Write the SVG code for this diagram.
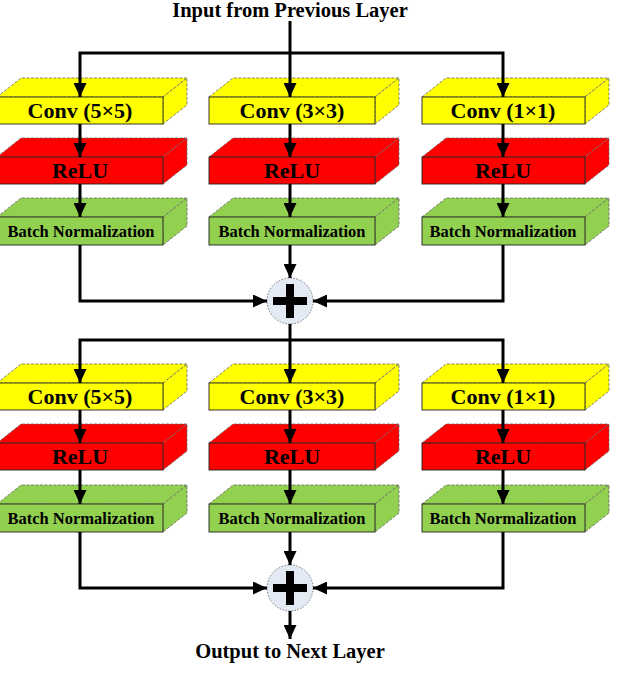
<svg xmlns="http://www.w3.org/2000/svg" width="640" height="692" viewBox="0 0 640 692">
<defs>
<style>
.t{font-family:"Liberation Serif","Times New Roman",serif;font-weight:bold;fill:#000;text-anchor:middle}
.big{font-size:22px}
.bn{font-size:16.5px}
.title{font-size:20.5px}
.fr{stroke:#222;stroke-width:0.9}
.fc{stroke:#666;stroke-width:0.8;stroke-dasharray:3 1.5}
.y{fill:#FFFF00}
.r{fill:#FF0000}
.g{fill:#92D050}
.ln{fill:none;stroke:#000;stroke-width:3;stroke-linejoin:miter}
.plus{fill:#E4EAF4;stroke:#777;stroke-width:1;stroke-dasharray:1.5 1.5}
</style>
<marker id="ah" markerUnits="userSpaceOnUse" markerWidth="14" markerHeight="13" refX="14" refY="6.5" orient="auto-start-reverse">
<path d="M0,0 L14,6.5 L0,13 Z" fill="#000"/>
</marker>
</defs>
<rect width="640" height="692" fill="#fff"/>

<text class="t title" x="290" y="17">Input from Previous Layer</text>

<!-- Row 1 -->
<g id="conv5-1">
<polygon class="y fc" points="-3,97 21,78 187,78 163,97"/>
<polygon class="y fc" points="163,97 187,78 187,105 163,124"/>
<rect class="y fr" x="-3" y="97" width="166" height="27"/>
<text class="t big" x="80" y="118">Conv (5×5)</text>
</g>
<g id="conv3-1">
<polygon class="y fc" points="209,97 233,78 399,78 375,97"/>
<polygon class="y fc" points="375,97 399,78 399,105 375,124"/>
<rect class="y fr" x="209" y="97" width="166" height="27"/>
<text class="t big" x="292" y="118">Conv (3×3)</text>
</g>
<g id="conv1-1">
<polygon class="y fc" points="422,97 446,78 609,78 585,97"/>
<polygon class="y fc" points="585,97 609,78 609,105 585,124"/>
<rect class="y fr" x="422" y="97" width="163" height="27"/>
<text class="t big" x="503" y="118">Conv (1×1)</text>
</g>

<g id="relu1-1">
<polygon class="r fc" points="-3,157 21,138 187,138 163,157"/>
<polygon class="r fc" points="163,157 187,138 187,165 163,184"/>
<rect class="r fr" x="-3" y="157" width="166" height="27"/>
<text class="t big" x="80" y="178">ReLU</text>
</g>
<g id="relu2-1">
<polygon class="r fc" points="209,157 233,138 399,138 375,157"/>
<polygon class="r fc" points="375,157 399,138 399,165 375,184"/>
<rect class="r fr" x="209" y="157" width="166" height="27"/>
<text class="t big" x="292" y="178">ReLU</text>
</g>
<g id="relu3-1">
<polygon class="r fc" points="422,157 446,138 609,138 585,157"/>
<polygon class="r fc" points="585,157 609,138 609,165 585,184"/>
<rect class="r fr" x="422" y="157" width="163" height="27"/>
<text class="t big" x="503" y="178">ReLU</text>
</g>

<g id="bn1-1">
<polygon class="g fc" points="-3,217 21,198 187,198 163,217"/>
<polygon class="g fc" points="163,217 187,198 187,226 163,245"/>
<rect class="g fr" x="-3" y="217" width="166" height="28"/>
<text class="t bn" x="81" y="237">Batch Normalization</text>
</g>
<g id="bn2-1">
<polygon class="g fc" points="209,217 233,198 399,198 375,217"/>
<polygon class="g fc" points="375,217 399,198 399,226 375,245"/>
<rect class="g fr" x="209" y="217" width="166" height="28"/>
<text class="t bn" x="292" y="237">Batch Normalization</text>
</g>
<g id="bn3-1">
<polygon class="g fc" points="422,217 446,198 609,198 585,217"/>
<polygon class="g fc" points="585,217 609,198 609,226 585,245"/>
<rect class="g fr" x="422" y="217" width="163" height="28"/>
<text class="t bn" x="503" y="237">Batch Normalization</text>
</g>

<g id="add-1">
<circle class="plus" cx="290" cy="301" r="23"/>
<rect x="273" y="297" width="34" height="8" fill="#000"/>
<rect x="286" y="284" width="8" height="34" fill="#000"/>
</g>

<!-- Row 2 -->
<g id="conv5-2">
<polygon class="y fc" points="-3,383 21,364 187,364 163,383"/>
<polygon class="y fc" points="163,383 187,364 187,391 163,410"/>
<rect class="y fr" x="-3" y="383" width="166" height="27"/>
<text class="t big" x="80" y="404">Conv (5×5)</text>
</g>
<g id="conv3-2">
<polygon class="y fc" points="209,383 233,364 399,364 375,383"/>
<polygon class="y fc" points="375,383 399,364 399,391 375,410"/>
<rect class="y fr" x="209" y="383" width="166" height="27"/>
<text class="t big" x="292" y="404">Conv (3×3)</text>
</g>
<g id="conv1-2">
<polygon class="y fc" points="422,383 446,364 609,364 585,383"/>
<polygon class="y fc" points="585,383 609,364 609,391 585,410"/>
<rect class="y fr" x="422" y="383" width="163" height="27"/>
<text class="t big" x="503" y="404">Conv (1×1)</text>
</g>

<g id="relu1-2">
<polygon class="r fc" points="-3,443 21,424 187,424 163,443"/>
<polygon class="r fc" points="163,443 187,424 187,451 163,470"/>
<rect class="r fr" x="-3" y="443" width="166" height="27"/>
<text class="t big" x="80" y="464">ReLU</text>
</g>
<g id="relu2-2">
<polygon class="r fc" points="209,443 233,424 399,424 375,443"/>
<polygon class="r fc" points="375,443 399,424 399,451 375,470"/>
<rect class="r fr" x="209" y="443" width="166" height="27"/>
<text class="t big" x="292" y="464">ReLU</text>
</g>
<g id="relu3-2">
<polygon class="r fc" points="422,443 446,424 609,424 585,443"/>
<polygon class="r fc" points="585,443 609,424 609,451 585,470"/>
<rect class="r fr" x="422" y="443" width="163" height="27"/>
<text class="t big" x="503" y="464">ReLU</text>
</g>

<g id="bn1-2">
<polygon class="g fc" points="-3,504 21,485 187,485 163,504"/>
<polygon class="g fc" points="163,504 187,485 187,513 163,532"/>
<rect class="g fr" x="-3" y="504" width="166" height="28"/>
<text class="t bn" x="81" y="524">Batch Normalization</text>
</g>
<g id="bn2-2">
<polygon class="g fc" points="209,504 233,485 399,485 375,504"/>
<polygon class="g fc" points="375,504 399,485 399,513 375,532"/>
<rect class="g fr" x="209" y="504" width="166" height="28"/>
<text class="t bn" x="292" y="524">Batch Normalization</text>
</g>
<g id="bn3-2">
<polygon class="g fc" points="422,504 446,485 609,485 585,504"/>
<polygon class="g fc" points="585,504 609,485 609,513 585,532"/>
<rect class="g fr" x="422" y="504" width="163" height="28"/>
<text class="t bn" x="503" y="524">Batch Normalization</text>
</g>

<g id="add-2">
<circle class="plus" cx="290" cy="588" r="23"/>
<rect x="273" y="584" width="34" height="8" fill="#000"/>
<rect x="286" y="571" width="8" height="34" fill="#000"/>
</g>

<text class="t title" x="290" y="658">Output to Next Layer</text>

<g id="connectors">
<path class="ln" d="M290,21 V97" marker-end="url(#ah)"/>
<path class="ln" d="M80,97 V53 H503 V97" marker-start="url(#ah)" marker-end="url(#ah)"/>
<path class="ln" d="M80,124 V157" marker-end="url(#ah)"/>
<path class="ln" d="M80,184 V217" marker-end="url(#ah)"/>
<path class="ln" d="M290,124 V157" marker-end="url(#ah)"/>
<path class="ln" d="M290,184 V217" marker-end="url(#ah)"/>
<path class="ln" d="M503,124 V157" marker-end="url(#ah)"/>
<path class="ln" d="M503,184 V217" marker-end="url(#ah)"/>
<path class="ln" d="M80,245 V301 H267" marker-end="url(#ah)"/>
<path class="ln" d="M503,245 V301 H313" marker-end="url(#ah)"/>
<path class="ln" d="M290,245 V278" marker-end="url(#ah)"/>
<path class="ln" d="M290,324 V383" marker-end="url(#ah)"/>
<path class="ln" d="M80,383 V340 H503 V383" marker-start="url(#ah)" marker-end="url(#ah)"/>
<path class="ln" d="M80,410 V443" marker-end="url(#ah)"/>
<path class="ln" d="M80,470 V504" marker-end="url(#ah)"/>
<path class="ln" d="M290,410 V443" marker-end="url(#ah)"/>
<path class="ln" d="M290,470 V504" marker-end="url(#ah)"/>
<path class="ln" d="M503,410 V443" marker-end="url(#ah)"/>
<path class="ln" d="M503,470 V504" marker-end="url(#ah)"/>
<path class="ln" d="M80,532 V588 H267" marker-end="url(#ah)"/>
<path class="ln" d="M503,532 V588 H313" marker-end="url(#ah)"/>
<path class="ln" d="M290,532 V565" marker-end="url(#ah)"/>
<path class="ln" d="M290,611 V639" marker-end="url(#ah)"/>
</g>
</svg>
